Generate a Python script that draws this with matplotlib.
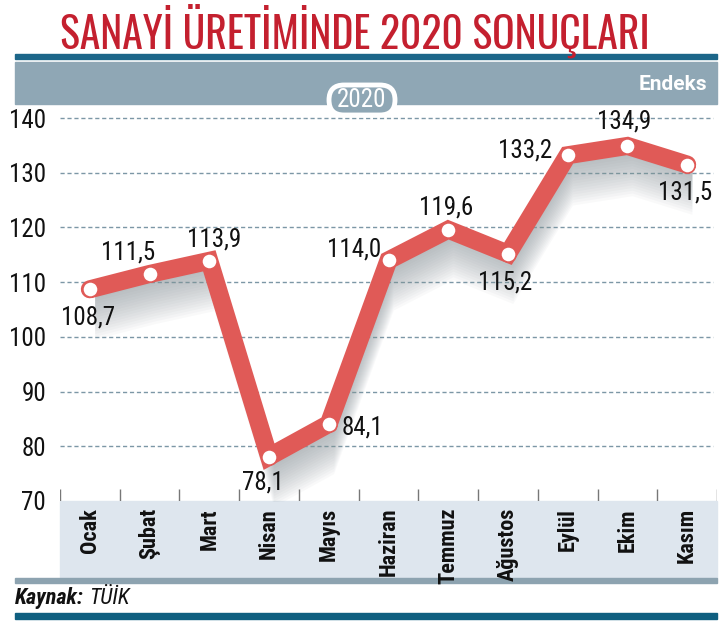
import matplotlib
matplotlib.use('Agg')
import matplotlib.pyplot as plt
from matplotlib import font_manager
from matplotlib.patches import Rectangle, FancyBboxPatch
from matplotlib.transforms import IdentityTransform
import numpy as np

months = ['Ocak', 'Şubat', 'Mart', 'Nisan', 'Mayıs', 'Haziran', 'Temmuz',
          'Ağustos', 'Eylül', 'Ekim', 'Kasım']
index_2020 = [108.7, 111.5, 113.9, 78.1, 84.1, 114.0, 119.6, 115.2, 133.2, 134.9, 131.5]
y_ticks = [70, 80, 90, 100, 110, 120, 130, 140]

# label placement (pixels from the point)
label_offsets = [(-2, -28), (-21, 21), (5, 21), (-6, -26), (34, -4), (-34, 11),
                 (-2, 22), (-3, -29), (-43, 5), (-3, 24), (-2, -28)]

names = {f.name for f in font_manager.fontManager.ttflist}


def pick(cands):
    for c in cands:
        if c in names:
            return c
    return None


title_font = pick(['Oswald', 'Roboto Condensed', 'Fjalla One', 'PT Sans Narrow',
                   'Archivo Narrow', 'Liberation Sans Narrow'])
cond_font = pick(['Roboto Condensed', 'PT Sans Narrow', 'Archivo Narrow', 'Oswald',
                  'Liberation Sans Narrow'])
shrink = 1.0
if cond_font is None:
    cond_font = 'DejaVu Sans'
    shrink = 0.75
if title_font is None:
    title_font = cond_font
plt.rcParams['font.family'] = [cond_font, 'DejaVu Sans']

W, H = 720, 623
fig = plt.figure(figsize=(W / 100, H / 100), dpi=100)


def fx(px):
    return px / W


def fy(py):
    return 1 - py / H


def band(x0, y0, x1, y1, color):
    fig.patches.append(Rectangle((fx(x0), fy(y1)), fx(x1) - fx(x0), fy(y0) - fy(y1),
                                 transform=fig.transFigure, color=color, zorder=-1))


# header
fig.text(fx(355), fy(31), 'SANAYİ ÜRETİMİNDE 2020 SONUÇLARI', ha='center', va='center',
         fontsize=30 * shrink, fontweight='bold', color='#c4202f',
         family=[title_font, 'DejaVu Sans'])
band(15, 54, 717, 59, '#1c6689')
band(15, 62, 717, 104, '#8fa7b5')
fig.text(fx(707), fy(85), 'Endeks', ha='right', va='center', fontsize=15,
         color='white', fontweight='bold', family=['Roboto', 'DejaVu Sans'])

# category band and footer
band(60, 501, 717, 578, '#dee6ee')
band(15, 578, 717, 583, '#8da3b0')
band(15, 613, 717, 619, '#0f5f80')
kay = fig.text(fx(15), fy(598), 'Kaynak:', ha='left', va='center', fontsize=16 * shrink,
               fontweight='bold', style='italic', color='#111111')
fig.canvas.draw()
kx = kay.get_window_extent().x1
fig.text(kx / W + fx(5), fy(598), 'TÜİK', ha='left', va='center', fontsize=16 * shrink,
         style='italic', color='#111111')

ax = fig.add_axes([fx(60), fy(501), fx(717) - fx(60), fy(104) - fy(501)])
ax.set_facecolor('none')
for s in ax.spines.values():
    s.set_visible(False)
ax.set_xlim(-0.5, len(months) - 0.5)
ax.set_ylim(70, 70 + 397 / 5.471)

x = np.arange(len(months))
y = np.array(index_2020)

for v in y_ticks[1:]:
    ax.plot([-0.5, len(months) - 0.57], [v, v], color='#7c97a6', lw=1,
            dashes=(3, 2), zorder=1)

# soft shadow under the line
for k in range(1, 18):
    ax.fill_between(x + 0.08, y - 0.6 - 0.5 * k, y - 0.6, color='#8c969c',
                    alpha=0.05, lw=0, zorder=2)

ax.plot(x, y, color='#e05a57', lw=13, solid_joinstyle='miter',
        solid_capstyle='round', zorder=4)
ax.plot(x, y, 'o', ms=11, mfc='white', mec='#e05a57', mew=1.2, zorder=5)

for xi, yi, off in zip(x, y, label_offsets):
    ax.annotate(f'{yi:.1f}'.replace('.', ','), (xi, yi), xytext=off,
                textcoords='offset pixels', ha='center', va='center',
                fontsize=18 * shrink, color='#111111', zorder=6)

# boundary ticks
ax.vlines(np.arange(len(months) + 1) - 0.5, 70, 70 + 12 / 5.471,
          color='#777777', lw=1, zorder=3)

ax.set_yticks(y_ticks)
ax.set_yticklabels([str(v) for v in y_ticks], fontsize=18 * shrink, color='#111111')
ax.tick_params(axis='y', length=0, pad=10)
ax.set_xticks([])

for xi, m in zip(x, months):
    ax.annotate(m, (xi, 70), xytext=(0, -7), textcoords='offset pixels',
                rotation=90, ha='center', va='top', fontsize=16 * shrink,
                fontweight='bold', color='#111111', annotation_clip=False)

# year pill (display pixels)
pill = FancyBboxPatch((329, H - 115), 66, 30,
                      boxstyle='round,pad=0,rounding_size=15',
                      transform=IdentityTransform(), facecolor='#8fa7b5',
                      edgecolor='white', lw=3.5, zorder=10)
fig.patches.append(pill)
fig.text(fx(362), fy(100), '2020', ha='center', va='center', fontsize=18 * shrink,
         color='white', zorder=11)

fig.savefig('out.png', dpi=100)
